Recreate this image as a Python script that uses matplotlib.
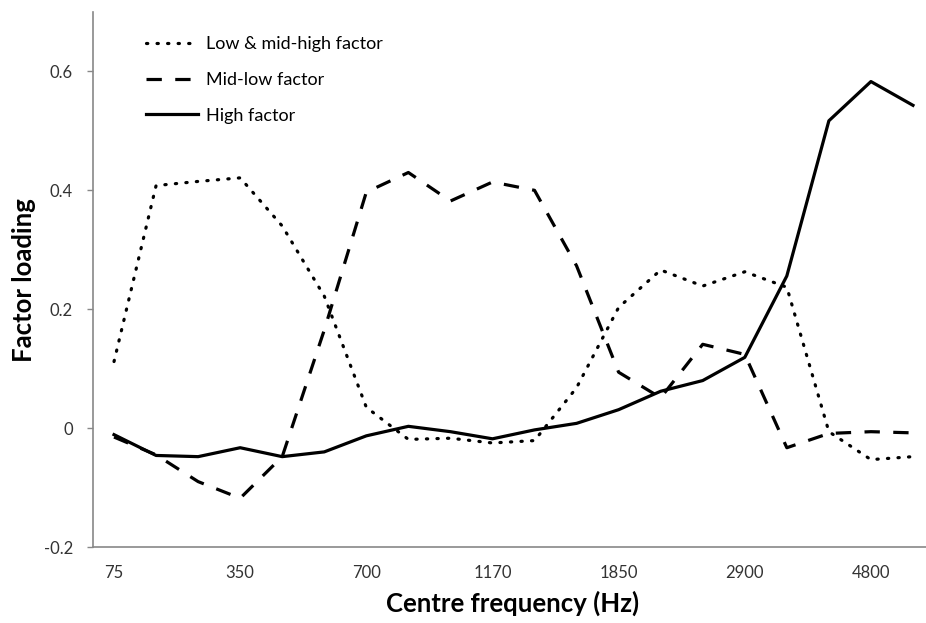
import matplotlib.pyplot as plt

# Factor loadings for 20 auditory filter bands (centre frequencies)
n_bands = 20
tick_idx = [0, 3, 6, 9, 12, 15, 18]
tick_labels = ['75', '350', '700', '1170', '1850', '2900', '4800']

low_midhigh = [0.112, 0.408, 0.415, 0.421, 0.34, 0.222, 0.035, -0.019, -0.017, -0.025,
               -0.021, 0.068, 0.203, 0.266, 0.239, 0.263, 0.237, -0.006, -0.053, -0.048]
mid_low = [-0.015, -0.045, -0.09, -0.118, -0.048, 0.165, 0.397, 0.43, 0.382, 0.414,
           0.40, 0.273, 0.094, 0.051, 0.141, 0.124, -0.033, -0.009, -0.006, -0.008]
high = [-0.011, -0.046, -0.048, -0.033, -0.048, -0.04, -0.013, 0.003, -0.006, -0.018,
        -0.003, 0.008, 0.031, 0.062, 0.080, 0.119, 0.256, 0.517, 0.583, 0.543]

plt.rcParams['font.family'] = ['Lato', 'DejaVu Sans']

fig = plt.figure(figsize=(9.26, 6.23), dpi=100)
ax = fig.add_axes([93 / 926, 76 / 623, 841 / 926, 535 / 623])

x = list(range(n_bands))
ax.plot(x, low_midhigh, color='black', lw=2.3, linestyle=(0, (0.4, 2.9)),
        dash_capstyle='round', label='Low & mid-high factor')
ax.plot(x, mid_low, color='black', lw=2.3, linestyle=(0, (4.8, 4.2)),
        label='Mid-low factor')
ax.plot(x, high, color='black', lw=2.3, label='High factor')

ax.set_xlim(-0.5, n_bands - 0.5)
ax.set_ylim(-0.2, 0.7)
ax.set_xticks(tick_idx)
ax.set_xticklabels(tick_labels)
ax.set_yticks([-0.2, 0, 0.2, 0.4, 0.6])
ax.set_yticklabels(['-0.2', '0', '0.2', '0.4', '0.6'])

ax.tick_params(axis='x', length=0, pad=13, labelsize=12, labelcolor='#333333')
ax.tick_params(axis='y', length=4.5, width=1, color='#888888', pad=10,
               labelsize=12, labelcolor='#333333')

for side in ['top', 'right']:
    ax.spines[side].set_visible(False)
for side in ['left', 'bottom']:
    ax.spines[side].set_color('#888888')
    ax.spines[side].set_linewidth(1.2)

fig.text(24 / 926, 1 - 280 / 623, 'Factor loading', rotation=90,
         ha='center', va='center', fontsize=18.5, fontweight='bold')
fig.text(513 / 926, 1 - 612 / 623, 'Centre frequency (Hz)',
         ha='center', va='baseline', fontsize=18.5, fontweight='bold')

ax.legend(loc='upper left', bbox_to_anchor=(146 / 926, 1 - 36 / 623),
          bbox_transform=fig.transFigure, frameon=False, fontsize=13,
          handlelength=2.9, handletextpad=0.4, labelspacing=1.1,
          borderpad=0, borderaxespad=0)

fig.savefig('out.png', dpi=100)
